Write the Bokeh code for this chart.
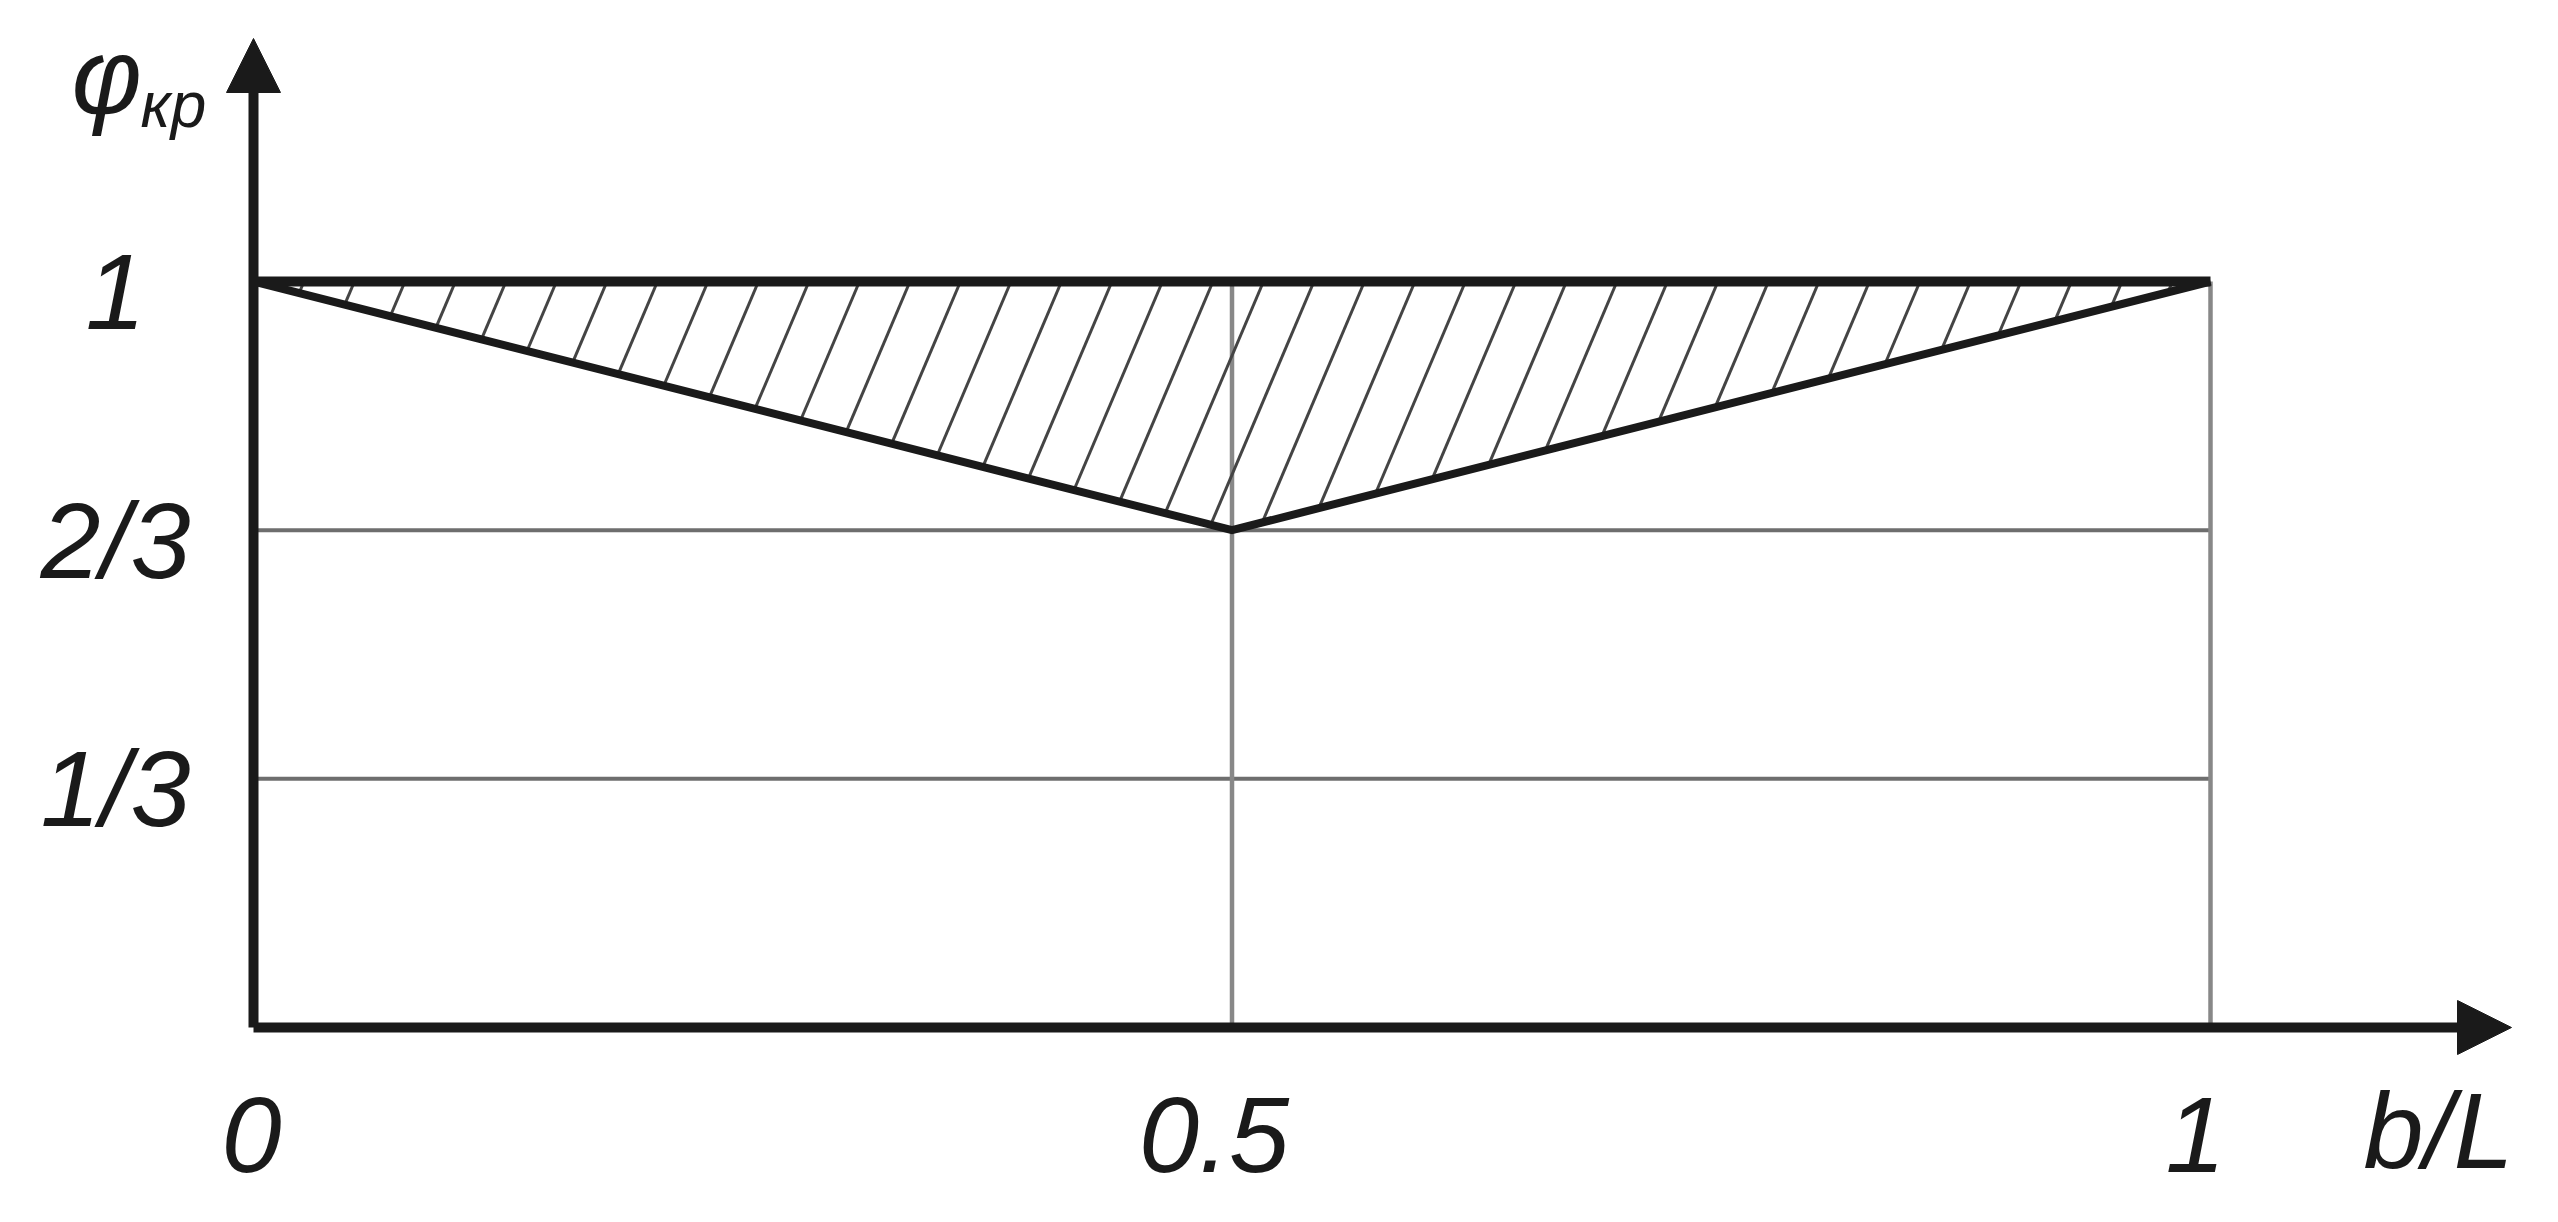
from bokeh.plotting import figure
from bokeh.models import Range1d, Arrow, NormalHead
from bokeh.embed import file_html
from bokeh.resources import INLINE
from bokeh.core.properties import value
import math

# ---------------- data ----------------
x_break = [0.0, 0.5, 1.0]          # b/L break points
phi_lower = [1.0, 2 / 3, 1.0]      # lower bound of phi_kr
phi_upper = [1.0, 1.0, 1.0]        # upper bound of phi_kr
x_ticks = [0.0, 0.5, 1.0]
x_tick_labels = ["0", "0.5", "1"]
y_ticks = [1 / 3, 2 / 3, 1.0]
y_tick_labels = ["1/3", "2/3", "1"]
x_grid = [0.5, 1.0]
y_grid = [1 / 3, 2 / 3]
x_label = "b/L"
y_label_main = "φ"
y_label_sub = "кр"

# ---------------- layout ----------------
W, H = 2542, 1206
PX_X, PX_Y = 1957.0, 746.0      # pixels per data unit
X0_PX, Y0_PX = 253.0, 1027.0    # pixel position of origin (from left / top)
x_start, x_end = -X0_PX / PX_X, (W - X0_PX) / PX_X
y_start, y_end = -(H - Y0_PX) / PX_Y, Y0_PX / PX_Y
X_TIP = (2511 - X0_PX) / PX_X
Y_TIP = (Y0_PX - 38) / PX_Y

INK = "#1a1a1a"
GRID = "#6e6e6e"
FONT = value("Liberation Sans")

p = figure(width=W, height=H, x_range=Range1d(x_start, x_end), y_range=Range1d(y_start, y_end),
           output_backend="svg", toolbar_location=None, x_axis_location=None, y_axis_location=None,
           min_border=0, min_border_left=0, min_border_right=0, min_border_top=0, min_border_bottom=0,
           outline_line_color=None, background_fill_color="white", border_fill_color="white")
p.xgrid.visible = False
p.ygrid.visible = False

xmin, xmax = x_break[0], x_break[-1]

# grid lines
p.segment(x0=[xmin] * len(y_grid), y0=y_grid, x1=[xmax] * len(y_grid), y1=y_grid,
          line_color=GRID, line_width=4)
p.segment(x0=x_grid, y0=[0.0] * len(x_grid), x1=x_grid, y1=[phi_upper[-1]] * len(x_grid),
          line_color="#888888", line_width=4.5)

# hatch lines (steep "/" lines between lower bound and upper bound)
slope = math.tan(math.radians(67)) * PX_X / PX_Y
k_left = (phi_lower[0] - phi_lower[1]) / (x_break[1] - x_break[0])
k_right = (phi_lower[2] - phi_lower[1]) / (x_break[2] - x_break[1])
spacing = 50.5 / PX_X
hx0, hy0, hx1, hy1 = [], [], [], []
top = phi_upper[0]
xk = spacing
while xk < xmax - 0.004:
    # hatch line: y = top + slope (x - xk)
    xr = (slope * xk - top + phi_lower[1] - k_right * x_break[1]) / (slope - k_right)
    if xr >= x_break[1]:
        xb = xr
        yb = phi_lower[1] + k_right * (xr - x_break[1])
    else:
        xb = (slope * xk - top + phi_lower[0]) / (slope + k_left)
        yb = phi_lower[0] - k_left * xb
    hx0.append(xb); hy0.append(yb); hx1.append(xk); hy1.append(top)
    xk += spacing
p.segment(x0=hx0, y0=hy0, x1=hx1, y1=hy1, line_color="#444444", line_width=3)

# bounds
p.line(x_break, phi_lower, line_color=INK, line_width=8, line_join="round")
p.line(x_break, phi_upper, line_color=INK, line_width=10)

# axes with arrows
p.add_layout(Arrow(end=NormalHead(size=54, fill_color=INK, line_color=INK, line_width=1),
                   x_start=xmin, y_start=0, x_end=X_TIP, y_end=0, line_color=INK, line_width=10))
p.add_layout(Arrow(end=NormalHead(size=54, fill_color=INK, line_color=INK, line_width=1),
                   x_start=xmin, y_start=0, x_end=xmin, y_end=Y_TIP, line_color=INK, line_width=10))

# tick labels
txt = dict(text_font=FONT, text_font_style="italic", text_color=INK)
p.text(x=x_ticks, y=[0.0] * len(x_ticks), text=x_tick_labels, text_align="center",
       text_baseline="alphabetic", x_offset=[-2, -18, -15], y_offset=107, text_font_size="108px", **txt)
p.text(x=[xmin] * len(y_ticks), y=y_ticks, text=y_tick_labels, text_align="center",
       text_baseline="alphabetic", x_offset=-138, y_offset=10, text_font_size="108px", **txt)

# axis titles
p.text(x=[X_TIP], y=[0.0], text=[x_label], text_align="center", text_baseline="alphabetic",
       x_offset=-73, y_offset=103, text_font_size="108px", **txt)
p.text(x=[xmin], y=[Y_TIP], text=[y_label_main], text_align="left", text_baseline="alphabetic",
       x_offset=-182, y_offset=38, text_font_size="108px", **txt)
p.text(x=[xmin], y=[Y_TIP], text=[y_label_sub], text_align="left", text_baseline="alphabetic",
       x_offset=-113, y_offset=66, text_font_size="64px", **txt)

open("out.html", "w").write(file_html(p, INLINE))
